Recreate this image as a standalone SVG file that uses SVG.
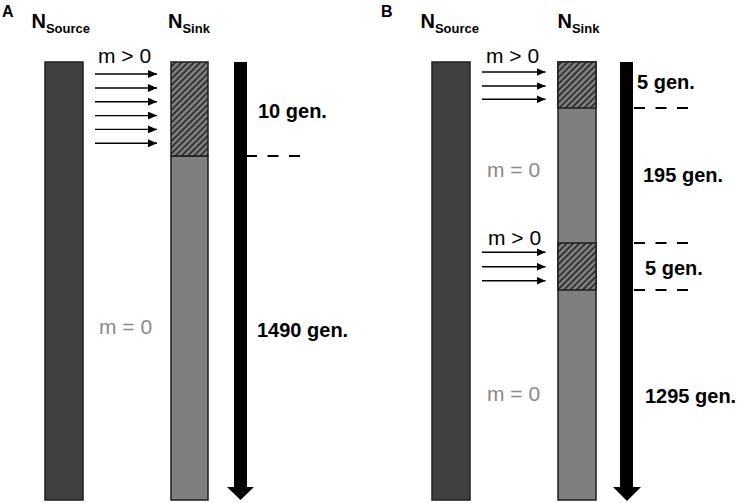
<svg xmlns="http://www.w3.org/2000/svg" width="739" height="503" viewBox="0 0 739 503">
<style>
.lbl{font-family:"Liberation Sans",Arial,sans-serif;font-weight:bold;fill:#000}
.pl{font-family:"Liberation Sans",Arial,sans-serif;font-weight:bold;font-size:16px;fill:#000}
.gen{font-family:"Liberation Sans",Arial,sans-serif;font-weight:bold;font-size:20px;fill:#000}
.m{font-family:"Liberation Sans",Arial,sans-serif;font-size:21px;fill:#000}
.m0{font-family:"Liberation Sans",Arial,sans-serif;font-size:21px;fill:#8a8a8a}
.src{fill:#404040;stroke:#1e1e1e;stroke-width:1.5}
.sink{fill:#7f7f7f;stroke:#1e1e1e;stroke-width:1.5}
.hatch{fill:url(#hp);stroke:#1e1e1e;stroke-width:1.5}
.mig{stroke:#000;stroke-width:1.4;fill:none;marker-end:url(#ah)}
.dash{stroke:#000;stroke-width:2;stroke-dasharray:11 10.5;fill:none}
.tl{fill:#000}
</style>
<defs>
<pattern id="hp" patternUnits="userSpaceOnUse" width="4.4" height="4.4" patternTransform="rotate(45)">
<rect width="4.4" height="4.4" fill="#7f7f7f"/>
<line x1="1" y1="0" x2="1" y2="4.4" stroke="#262626" stroke-width="1.6"/>
</pattern>
<marker id="ah" markerWidth="9" markerHeight="8" refX="9" refY="4" orient="auto" markerUnits="userSpaceOnUse">
<path d="M0,0 L9,4 L0,8 Z" fill="#000"/>
</marker>
</defs>

<g id="panelA-label"><text class="pl" x="2" y="17">A</text></g>
<g id="panelB-label"><text class="pl" x="381" y="17">B</text></g>

<g id="A-source">
<text class="lbl" x="31.5" y="28" font-size="20">N<tspan font-size="13" y="33">Source</tspan></text>
<rect class="src" x="45" y="62" width="38" height="438"/>
</g>
<g id="A-sink">
<text class="lbl" x="168" y="28" font-size="20">N<tspan font-size="13" y="33">Sink</tspan></text>
<rect class="sink" x="171" y="156" width="37" height="344"/>
<rect class="hatch" x="171" y="62" width="37" height="94"/>
</g>
<g id="A-timeline">
<rect class="tl" x="234" y="62" width="13" height="426"/>
<path class="tl" d="M227,487 L254,487 L240.5,500 Z"/>
</g>
<g id="A-texts">
<text class="m" x="98" y="63">m &gt; 0</text>
<text class="m0" x="99" y="334">m = 0</text>
<text class="gen" x="258" y="118">10 gen.</text>
<text class="gen" x="257" y="337">1490 gen.</text>
</g>

<g id="B-source">
<text class="lbl" x="420.5" y="28" font-size="20">N<tspan font-size="13" y="33">Source</tspan></text>
<rect class="src" x="432" y="62" width="38" height="438"/>
</g>
<g id="B-sink">
<text class="lbl" x="557.5" y="28" font-size="20">N<tspan font-size="13" y="33">Sink</tspan></text>
<rect class="sink" x="558" y="62" width="38" height="438"/>
<rect class="hatch" x="558" y="62" width="38" height="46"/>
<rect class="hatch" x="558" y="243" width="38" height="47"/>
</g>
<g id="B-timeline">
<rect class="tl" x="620" y="62" width="13" height="426"/>
<path class="tl" d="M613,487 L641,487 L627,501 Z"/>
</g>
<g id="B-texts">
<text class="m" x="486" y="63">m &gt; 0</text>
<text class="m0" x="487" y="177">m = 0</text>
<text class="m" x="488" y="245">m &gt; 0</text>
<text class="m0" x="487" y="401">m = 0</text>
<text class="gen" x="637" y="89">5 gen.</text>
<text class="gen" x="643" y="182">195 gen.</text>
<text class="gen" x="645" y="275">5 gen.</text>
<text class="gen" x="645" y="403">1295 gen.</text>
</g>

<g id="connectors">
<line class="mig" x1="95" y1="74" x2="157" y2="74"/>
<line class="mig" x1="95" y1="88" x2="157" y2="88"/>
<line class="mig" x1="95" y1="101.7" x2="157" y2="101.7"/>
<line class="mig" x1="95" y1="115.6" x2="157" y2="115.6"/>
<line class="mig" x1="95" y1="129.4" x2="157" y2="129.4"/>
<line class="mig" x1="95" y1="143.3" x2="157" y2="143.3"/>
<line class="mig" x1="482" y1="72" x2="545.5" y2="72"/>
<line class="mig" x1="482" y1="86" x2="545.5" y2="86"/>
<line class="mig" x1="482" y1="99.3" x2="545.5" y2="99.3"/>
<line class="mig" x1="482" y1="252.3" x2="545.5" y2="252.3"/>
<line class="mig" x1="482" y1="266.7" x2="545.5" y2="266.7"/>
<line class="mig" x1="482" y1="280.7" x2="545.5" y2="280.7"/>
<line class="dash" x1="246" y1="156" x2="301" y2="156"/>
<line class="dash" x1="634" y1="108" x2="688" y2="108"/>
<line class="dash" x1="634" y1="243" x2="688" y2="243"/>
<line class="dash" x1="634" y1="290" x2="688" y2="290"/>
</g>
</svg>
